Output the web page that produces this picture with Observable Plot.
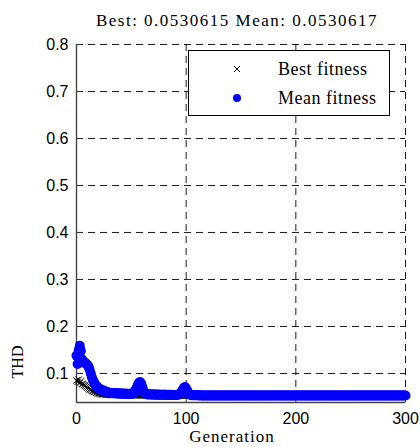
<!DOCTYPE html>
<html><head><meta charset="utf-8">
<script src="https://cdn.jsdelivr.net/npm/d3@7"></script>
<script src="https://cdn.jsdelivr.net/npm/@observablehq/plot@0.6"></script>
<style>body{margin:0;background:#fff}#chart{width:420px;height:447px}</style>
</head><body><div id="chart"></div>
<script>
const titleText = "Best: 0.0530615 Mean: 0.0530617";
const xLabel = "Generation";
const yLabel = "THD";
const seriesNames = ["Best fitness", "Mean fitness"];
const xTicks = [0, 100, 200, 300];
const yTicks = [0.1, 0.2, 0.3, 0.4, 0.5, 0.6, 0.7, 0.8];
const yMin = 0.0382;

const meanFitness = [
0.138,0.120,0.150,0.159,0.148,0.130,0.126,0.124,0.122,0.120,
0.118,0.114,0.108,0.100,0.092,0.086,0.081,0.077,0.074,0.071,
0.069,0.067,0.066,0.065,0.064,0.063,0.062,0.061,0.060,0.0595,
0.0590,0.0585,0.0582,0.0580,0.0583,0.0579,0.0576,0.0578,0.0574,0.0572,
0.0575,0.0571,0.0569,0.0572,0.0568,0.0566,0.0569,0.0565,0.0567,0.0564,
0.0566,0.0575,0.0590,0.0610,0.0650,0.0700,0.0760,0.0800,0.0820,0.0780,
0.0710,0.0640,0.0590,0.0565,0.0556,0.0553,0.0555,0.0552,0.0551,0.0553,
0.0550,0.0549,0.0551,0.0548,0.0550,0.0547,0.0549,0.0546,0.0548,0.0545,
0.0547,0.0545,0.0546,0.0544,0.0545,0.0543,0.0545,0.0544,0.0543,0.0544,
0.0542,0.0543,0.0545,0.0550,0.0560,0.0580,0.0620,0.0660,0.0695,0.0712,
0.0680,0.0630,0.0585,0.0555,0.0542,0.0538,0.0536,0.0537,0.0535,0.0534,
0.0535,0.0534,0.0533,0.0534,0.0533,0.0533,0.0532,0.0533,0.0532,0.0532,
0.0533,0.0532,0.0532,0.0531,0.0532,0.0531,0.0531,0.0532,0.0531,0.0531,
0.0531,0.0531,0.0531,0.0531,0.0531,0.0531,0.0531,0.0531,0.0531,0.0531,
0.0531,0.0531,0.0531,0.0531,0.0531,0.0531,0.0531,0.0531,0.0531,0.0531,
0.0531,0.0531,0.0531,0.0531,0.0531,0.0531,0.0531,0.0531,0.0531,0.0531,
0.0531,0.0531,0.0531,0.0531,0.0531,0.0531,0.0531,0.0531,0.0531,0.0531,
0.0531,0.0531,0.0531,0.0531,0.0531,0.0531,0.0531,0.0531,0.0531,0.0531,
0.0531,0.0531,0.0531,0.0531,0.0531,0.0531,0.0531,0.0531,0.0531,0.0531,
0.0531,0.0531,0.0531,0.0531,0.0531,0.0531,0.0531,0.0531,0.0531,0.0531,
0.0531,0.0531,0.0531,0.0531,0.0531,0.0531,0.0531,0.0531,0.0531,0.0531,
0.0531,0.0531,0.0531,0.0531,0.0531,0.0531,0.0531,0.0531,0.0531,0.0531,
0.0531,0.0531,0.0531,0.0531,0.0531,0.0531,0.0531,0.0531,0.0531,0.0531,
0.0531,0.0531,0.0531,0.0531,0.0531,0.0531,0.0531,0.0531,0.0531,0.0531,
0.0531,0.0531,0.0531,0.0531,0.0531,0.0531,0.0531,0.0531,0.0531,0.0531,
0.0531,0.0531,0.0531,0.0531,0.0531,0.0531,0.0531,0.0531,0.0531,0.0531,
0.0531,0.0531,0.0531,0.0531,0.0531,0.0531,0.0531,0.0531,0.0531,0.0531,
0.0531,0.0531,0.0531,0.0531,0.0531,0.0531,0.0531,0.0531,0.0531,0.0531,
0.0531,0.0531,0.0531,0.0531,0.0531,0.0531,0.0531,0.0531,0.0531,0.0531,
0.0531,0.0531,0.0531,0.0531,0.0531,0.0531,0.0531,0.0531,0.0531,0.0531,
0.05306
];

const bestFitness = [
0.085,0.082,0.087,0.080,0.083,0.078,0.077,0.075,0.074,0.072,
0.070,0.068,0.066,0.065,0.063,0.062,0.061,0.060,0.059,0.058,
0.0575,0.057,0.0565,0.056,0.0557,0.0555,0.0553,0.0551,0.0549,0.0548,
0.0547,0.0546,0.0545,0.0545,0.0544,0.0543,0.0543,0.0542,0.0542,0.0541,
0.0541,0.0540,0.0540,0.0540,0.0539,0.0539,0.0539,0.0538,0.0538,0.0538,
0.0537,0.0537,0.0537,0.0537,0.0536,0.0536,0.0536,0.0536,0.0535,0.0535,
0.0535,0.0535,0.0535,0.0534,0.0534,0.0534,0.0534,0.0534,0.0533,0.0533,
0.0533,0.0533,0.0533,0.0533,0.0533,0.0532,0.0532,0.0532,0.0532,0.0532,
0.0532,0.0532,0.0532,0.0532,0.0532,0.0531,0.0531,0.0531,0.0531,0.0531,
0.0531,0.0531,0.0531,0.0531,0.0531,0.0531,0.0531,0.0531,0.0531,0.0531,
0.05306,0.05306,0.05306,0.05306,0.05306,0.05306,0.05306,0.05306,0.05306,0.05306,
0.05306,0.05306,0.05306,0.05306,0.05306,0.05306,0.05306,0.05306,0.05306,0.05306,
0.05306,0.05306,0.05306,0.05306,0.05306,0.05306,0.05306,0.05306,0.05306,0.05306,
0.05306,0.05306,0.05306,0.05306,0.05306,0.05306,0.05306,0.05306,0.05306,0.05306,
0.05306,0.05306,0.05306,0.05306,0.05306,0.05306,0.05306,0.05306,0.05306,0.05306,
0.05306,0.05306,0.05306,0.05306,0.05306,0.05306,0.05306,0.05306,0.05306,0.05306,
0.05306,0.05306,0.05306,0.05306,0.05306,0.05306,0.05306,0.05306,0.05306,0.05306,
0.05306,0.05306,0.05306,0.05306,0.05306,0.05306,0.05306,0.05306,0.05306,0.05306,
0.05306,0.05306,0.05306,0.05306,0.05306,0.05306,0.05306,0.05306,0.05306,0.05306,
0.05306,0.05306,0.05306,0.05306,0.05306,0.05306,0.05306,0.05306,0.05306,0.05306,
0.05306,0.05306,0.05306,0.05306,0.05306,0.05306,0.05306,0.05306,0.05306,0.05306,
0.05306,0.05306,0.05306,0.05306,0.05306,0.05306,0.05306,0.05306,0.05306,0.05306,
0.05306,0.05306,0.05306,0.05306,0.05306,0.05306,0.05306,0.05306,0.05306,0.05306,
0.05306,0.05306,0.05306,0.05306,0.05306,0.05306,0.05306,0.05306,0.05306,0.05306,
0.05306,0.05306,0.05306,0.05306,0.05306,0.05306,0.05306,0.05306,0.05306,0.05306,
0.05306,0.05306,0.05306,0.05306,0.05306,0.05306,0.05306,0.05306,0.05306,0.05306,
0.05306,0.05306,0.05306,0.05306,0.05306,0.05306,0.05306,0.05306,0.05306,0.05306,
0.05306,0.05306,0.05306,0.05306,0.05306,0.05306,0.05306,0.05306,0.05306,0.05306,
0.05306,0.05306,0.05306,0.05306,0.05306,0.05306,0.05306,0.05306,0.05306,0.05306,
0.05306,0.05306,0.05306,0.05306,0.05306,0.05306,0.05306,0.05306,0.05306,0.05306,
0.05306
];

const best = bestFitness.map((v, i) => ({gen: i, value: v}));
const mean = meanFitness.map((v, i) => ({gen: i, value: v}));

const serif = "'Liberation Serif','Times New Roman',serif";
const gridStyle = {stroke: "#000", strokeOpacity: 1, strokeWidth: 0.9, strokeDasharray: "7,5"};

const plot = Plot.plot({
  width: 420, height: 447,
  marginLeft: 76, marginRight: 15, marginTop: 44, marginBottom: 45,
  style: {background: "#fff", fontFamily: "'Liberation Sans',Arial,sans-serif", fontSize: "16px", color: "#000", overflow: "visible"},
  x: {domain: [0, 300]},
  y: {domain: [yMin, 0.8]},
  marks: [
    Plot.gridX(xTicks.slice(1), gridStyle),
    Plot.gridY(yTicks, gridStyle),
    Plot.ruleY(yTicks, {x1: 0, x2: 4.5, stroke: "#333", strokeWidth: 1}),
    Plot.ruleX(xTicks, {y1: yMin, y2: yMin + 0.01, stroke: "#333", strokeWidth: 1}),
    Plot.ruleX([0], {stroke: "#444", strokeWidth: 1.4}),
    Plot.ruleY([yMin], {stroke: "#444", strokeWidth: 1.4}),
    Plot.axisX({ticks: xTicks, tickSize: 0, tickPadding: 10, label: null, tickFormat: d => String(d)}),
    Plot.axisY({ticks: yTicks, tickSize: 0, tickPadding: 8, label: null, tickFormat: d => d.toFixed(1)}),
    Plot.dot(best, {x: "gen", y: "value", symbol: "times", r: 3, stroke: "#000", strokeWidth: 1}),
    Plot.dot(mean, {x: "gen", y: "value", r: 5, fill: "#0000ff", stroke: "none"})
  ]
});

document.getElementById("chart").appendChild(plot);
const svg = d3.select(plot);

svg.append("text")
  .attr("x", 237).attr("y", 26).attr("text-anchor", "middle")
  .style("font-family", serif).style("font-size", "17px").style("letter-spacing", "1.5px")
  .attr("fill", "#000").text(titleText);

svg.append("text")
  .attr("x", 232).attr("y", 442).attr("text-anchor", "middle")
  .style("font-family", serif).style("font-size", "17px").style("letter-spacing", "1px")
  .attr("fill", "#000").text(xLabel);

svg.append("text")
  .attr("transform", "translate(23,362) rotate(-90)").attr("text-anchor", "middle")
  .style("font-family", serif).style("font-size", "16px")
  .attr("fill", "#000").text(yLabel);

// legend
const lg = svg.append("g");
lg.append("rect").attr("x", 188.5).attr("y", 50.5).attr("width", 201).attr("height", 65)
  .attr("fill", "#fff").attr("stroke", "#000").attr("stroke-width", 1);
lg.append("path").attr("d", "M234,66L240,72M234,72L240,66").attr("stroke", "#000").attr("stroke-width", 1);
lg.append("circle").attr("cx", 237).attr("cy", 98).attr("r", 4).attr("fill", "#0000ff");
seriesNames.forEach((name, i) => {
  lg.append("text").attr("x", 278).attr("y", i === 0 ? 69 : 98).attr("dy", "0.35em")
    .attr("text-anchor", "start")
    .style("font-family", serif).style("font-size", "18px").style("letter-spacing", "0.5px")
    .attr("fill", "#000").text(name);
});
</script>
</body></html>
